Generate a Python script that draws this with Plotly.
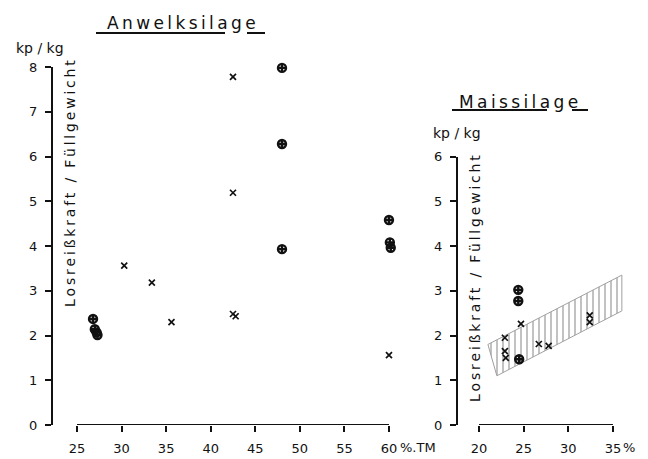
import plotly.graph_objects as go

# ---------------- data ----------------
anwelk_cross_x = [42.5, 42.5, 30.3, 33.4, 35.6, 42.5, 42.8, 60.0]
anwelk_cross_y = [7.78, 5.19, 3.56, 3.18, 2.30, 2.48, 2.43, 1.56]
anwelk_circ_x = [48.0, 48.0, 48.0, 26.8, 27.0, 27.2, 27.3, 60.0, 60.1, 60.2]
anwelk_circ_y = [7.98, 6.28, 3.93, 2.37, 2.14, 2.07, 2.01, 4.58, 4.08, 3.96]

mais_cross_x = [24.7, 22.9, 22.9, 23.0, 26.7, 27.8, 32.4, 32.4]
mais_cross_y = [2.26, 1.95, 1.65, 1.50, 1.81, 1.77, 2.45, 2.30]
mais_circ_x = [24.4, 24.4, 24.5]
mais_circ_y = [3.02, 2.77, 1.47]

band_x = [22.0, 36.0, 36.0, 21.0, 22.0]
band_y = [1.10, 2.55, 3.35, 1.80, 1.10]

left_xticks = [25, 30, 35, 40, 45, 50, 55, 60]
left_yticks = [0, 1, 2, 3, 4, 5, 6, 7, 8]
right_xticks = [20, 25, 30, 35]
right_yticks = [0, 1, 2, 3, 4, 5, 6]

# ---------------- layout helpers ----------------
W, H = 648, 459
OFF = 8  # page offset of the plot div

def px(x):
    return (x - OFF) / W
def py(y):
    return 1 - (y - OFF) / H

FONT = "DejaVu Sans"
INK = "#111111"

cross_marker = dict(symbol="x-thin-open", size=6, line=dict(width=1.7, color=INK), color=INK)
circ_marker = dict(symbol="circle-cross-open", size=8, line=dict(width=2.4, color=INK), color=INK)

fig = go.Figure()

fig.add_trace(go.Scatter(x=anwelk_cross_x, y=anwelk_cross_y, mode="markers",
                         marker=cross_marker, xaxis="x", yaxis="y", cliponaxis=False))
fig.add_trace(go.Scatter(x=anwelk_circ_x, y=anwelk_circ_y, mode="markers",
                         marker=circ_marker, xaxis="x", yaxis="y", cliponaxis=False))

fig.add_trace(go.Scatter(x=band_x, y=band_y, mode="lines", fill="toself",
                         line=dict(color="#a0a0a0", width=1),
                         fillcolor="rgba(0,0,0,0)",
                         fillpattern=dict(shape="|", size=6, solidity=0.3,
                                          fgcolor="#777777", bgcolor="rgba(255,255,255,0)"),
                         xaxis="x2", yaxis="y2", hoverinfo="skip"))
fig.add_trace(go.Scatter(x=mais_cross_x, y=mais_cross_y, mode="markers",
                         marker=cross_marker, xaxis="x2", yaxis="y2", cliponaxis=False))
fig.add_trace(go.Scatter(x=mais_circ_x, y=mais_circ_y, mode="markers",
                         marker=circ_marker, xaxis="x2", yaxis="y2", cliponaxis=False))

tickfont = dict(family=FONT, size=13, color=INK)
common_x = dict(showgrid=False, zeroline=False, showline=False, ticks="outside",
                ticklen=6, tickwidth=1.5, tickcolor=INK, tickfont=tickfont,
                ticklabelstandoff=5, automargin=False)
common_y = dict(showgrid=False, zeroline=False, showline=True, linecolor=INK, linewidth=2,
                ticks="outside", ticklen=6, tickwidth=1.5, tickcolor=INK, tickfont=tickfont,
                ticklabelstandoff=5, automargin=False)

fig.update_layout(
    width=W, height=H,
    margin=dict(l=0, r=0, t=0, b=0, autoexpand=False),
    paper_bgcolor="white", plot_bgcolor="white",
    showlegend=False,
    xaxis=dict(domain=[px(53), px(406.8)], range=[22.31, 62], anchor="y",
               tickvals=left_xticks, ticktext=[str(v) for v in left_xticks], **common_x),
    yaxis=dict(domain=[py(425), py(67)], range=[0, 8], anchor="x",
               tickvals=left_yticks, **common_y),
    xaxis2=dict(domain=[px(458), px(630.8)], range=[17.65, 37], anchor="y2",
                tickvals=right_xticks, ticktext=[str(v) for v in right_xticks], **common_x),
    yaxis2=dict(domain=[py(425), py(156.5)], range=[0, 6], anchor="x2",
                tickvals=right_yticks, **common_y),
)

# x-axis baselines (detached from y-axes as in the original)
fig.add_shape(type="line", xref="x", yref="y", x0=25, x1=60, y0=0, y1=0,
              line=dict(color=INK, width=2))
fig.add_shape(type="line", xref="x2", yref="y2", x0=20, x1=35, y0=0, y1=0,
              line=dict(color=INK, width=2))

def spaced(s):
    return "\u2009".join(s)

def note(text, x, y, size, angle=0, xanchor="center"):
    return dict(text=text, x=px(x), y=py(y), xref="paper", yref="paper",
                xanchor=xanchor, yanchor="middle", textangle=angle, showarrow=False,
                font=dict(family=FONT, size=size, color=INK))

ytitle = spaced("Losreißkraft / Füllgewicht")
ann = [
    note(spaced("Anwelksilage"), 181, 23, 17),
    note(spaced("Maissilage"), 519, 102, 17),
    note("kp / kg", 40, 48, 14),
    note("kp / kg", 457, 133, 14),
    note(ytitle, 70, 184, 14, angle=-90),
    note(ytitle, 475, 279, 14, angle=-90),
    note("%.TM", 398, 447, 13, xanchor="left"),
    note("%", 621, 447, 13, xanchor="left"),
]
fig.update_layout(annotations=ann)

# title underlines
for x0, x1, y in [(96, 225, 33), (247, 265, 33), (452, 547, 110), (572, 588, 110)]:
    fig.add_shape(type="line", xref="paper", yref="paper", x0=px(x0), x1=px(x1),
                  y0=py(y), y1=py(y), line=dict(color=INK, width=2))

fig.write_html("out.html")
